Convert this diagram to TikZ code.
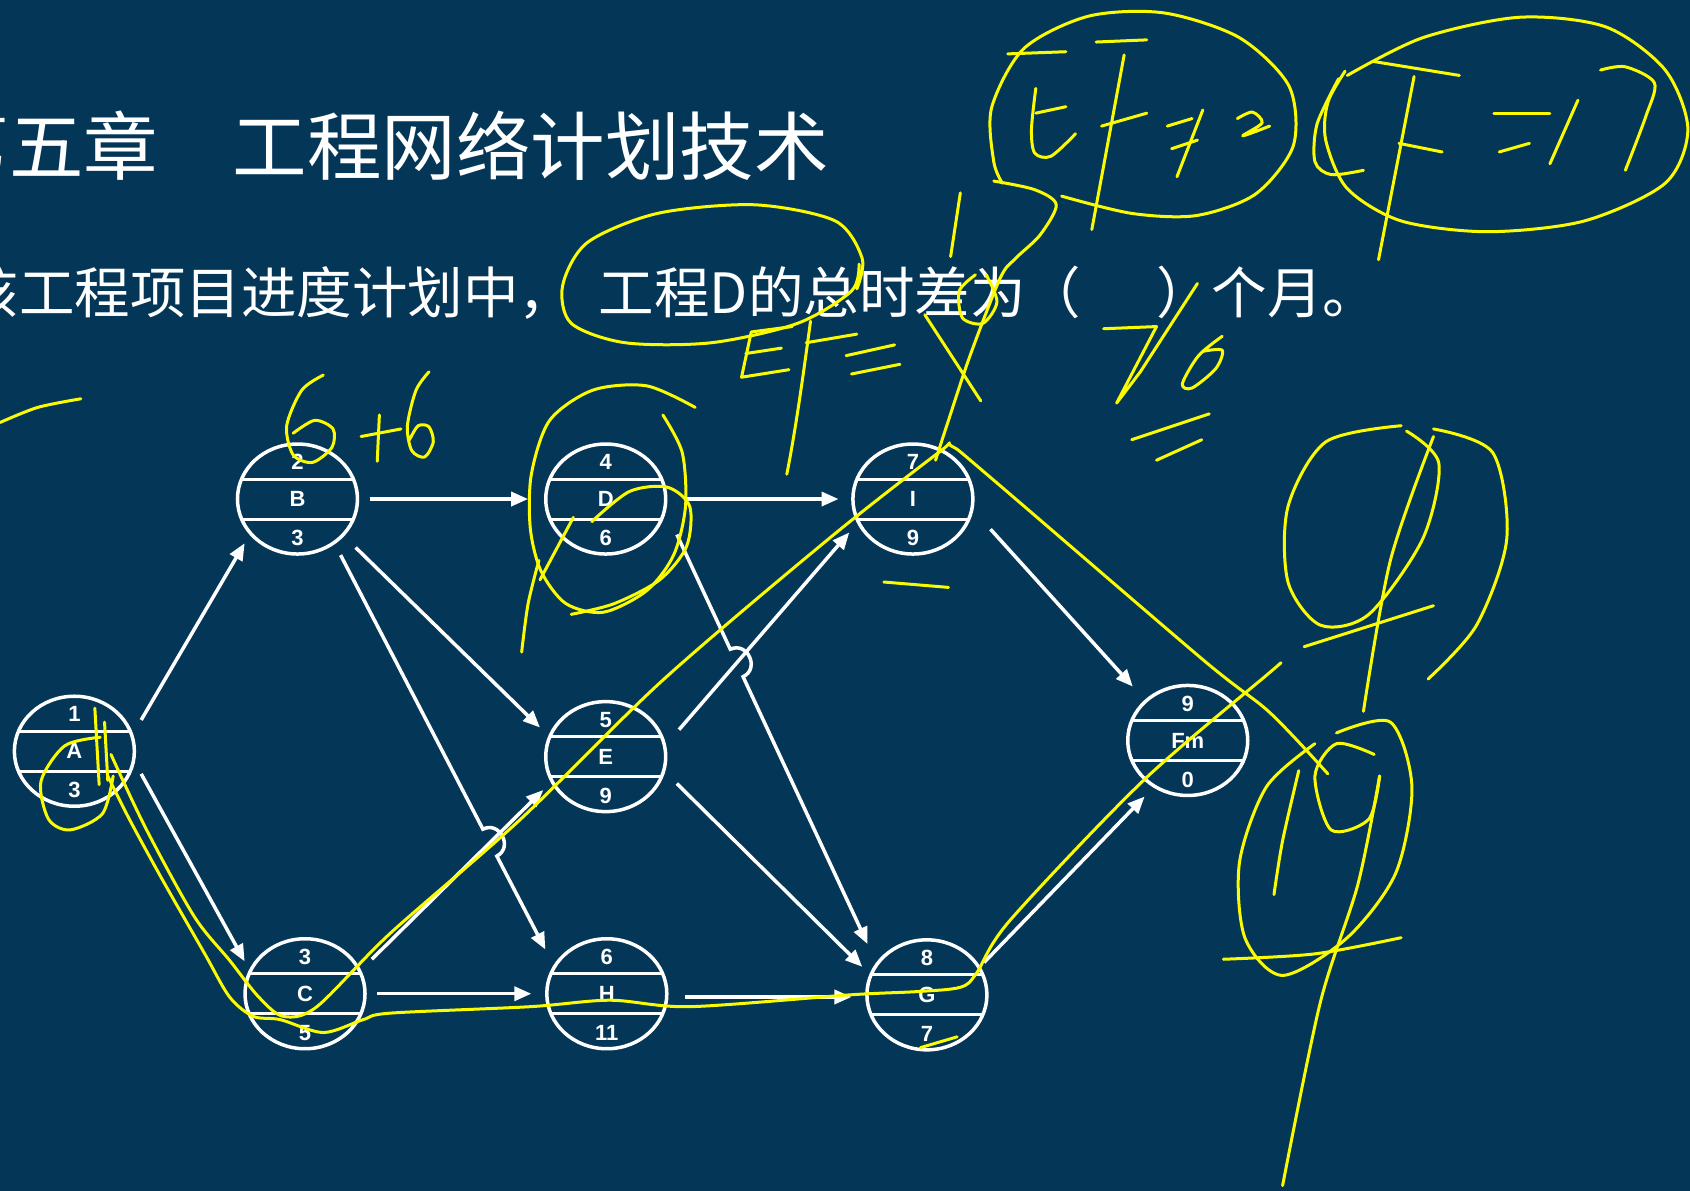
\documentclass[tikz,border=0pt]{standalone}
\usepackage{fontspec}
\setmainfont{Liberation Sans}
\newfontfamily\cjk{Noto Sans CJK SC}
\usetikzlibrary{arrows.meta,calc,shapes.geometric}
\definecolor{bg}{RGB}{4,54,88}
\definecolor{hl}{RGB}{250,250,0}
\newcommand\EvNode[6]{%
  \node[evt] (#1) at (#2,#3) {};
  \node[lab] (#1t) at ([yshift=37pt]#1.center) {#4};
  \node[lab] (#1m) at (#1.center) {#5};
  \node[lab] (#1b) at ([yshift=-39pt]#1.center) {#6};
}
\begin{document}
\begin{tikzpicture}[x=1.0778pt,y=-1.0778pt,
  evt/.style={ellipse, draw=white, line width=3.5pt, minimum width=120pt, minimum height=110pt, inner sep=0pt,
    path picture={\draw[white,line width=3pt]
      ([yshift=20pt]path picture bounding box.west) -- ([yshift=20pt]path picture bounding box.east)
      ([yshift=-20pt]path picture bounding box.west) -- ([yshift=-20pt]path picture bounding box.east);}},
  lab/.style={text=white, font=\bfseries\fontsize{22}{22}\selectfont, inner sep=0pt},
  arr/.style={white, line width=3.5pt, -{Triangle[length=17pt,width=14pt]}},
  ink/.style={hl, line width=3pt, line cap=round, line join=round},
  cjktext/.style={anchor=west, inner sep=0pt, text=white}
]
\fill[bg] (0,0) rectangle (1568,1105);
\useasboundingbox (0,0) rectangle (1568,1105);

% texts
\node[cjktext, font=\cjk\fontsize{74.5}{74.5}\selectfont] (title) at (-60.5,135.5) {第五章　工程网络计划技术};
\node[cjktext, font=\cjk\fontsize{55.5}{55.5}\selectfont] (q) at (-34,272) {该工程项目进度计划中，\hspace{0.45em}工程D的总时差为（\hspace{1.35em}）个月。};

% event nodes
\EvNode{A}{69}{697}{1}{A}{3}
\EvNode{B}{276}{463}{2}{B}{3}
\EvNode{D}{562}{463}{4}{D}{6}
\EvNode{I}{847}{463}{7}{I}{9}
\EvNode{E}{562}{702}{5}{E}{9}
\EvNode{Fm}{1102}{687}{9}{Fm}{0}
\EvNode{C}{283}{922}{3}{C}{5}
\EvNode{H}{563}{922}{6}{H}{11}
\EvNode{G}{860}{923}{8}{G}{7}

% arrows
\draw[arr] ([shift={(62,-29)}]A.center) -- ([shift={(-49,41)}]B.center);
\draw[arr] ([shift={(62,21)}]A.center) -- ([shift={(-56,-30)}]C.center);
\draw[arr] ([shift={(67,0)}]B.center) -- ([shift={(-72,0)}]D.center);
\draw[arr] ([shift={(54,45)}]B.center) -- ([shift={(-61,-27)}]E.center);
\coordinate (bh0) at ([shift={(40,52)}]B.center);
\coordinate (bh3) at ([shift={(-57,-41)}]H.center);
\draw[arr] (bh0) -- ($(bh0)!0.695!(bh3)$) to[bend left=90,looseness=1.6] ($(bh0)!0.763!(bh3)$) -- (bh3);
\draw[arr] ([shift={(62,-32)}]C.center) -- ([shift={(-58,31)}]E.center);
\draw[arr] ([shift={(67,0)}]C.center) -- ([shift={(-70,0)}]H.center);
\draw[arr] ([shift={(73,0)}]D.center) -- ([shift={(-69,0)}]I.center);
\coordinate (dg0) at ([shift={(66,33)}]D.center);
\coordinate (dg3) at ([shift={(-55,-47)}]G.center);
\draw[arr] (dg0) -- ($(dg0)!0.28!(dg3)$) to[bend left=90,looseness=1.6] ($(dg0)!0.347!(dg3)$) -- (dg3);
\draw[arr] ([shift={(68,-25)}]E.center) -- ([shift={(-59,31)}]I.center);
\draw[arr] ([shift={(66,25)}]E.center) -- ([shift={(-60,-26)}]G.center);
\draw[arr] ([shift={(73,3)}]H.center) -- ([shift={(-70,2)}]G.center);
\draw[arr] ([shift={(72,28)}]I.center) -- ([shift={(-51,-50)}]Fm.center);
\draw[arr] ([shift={(53,-30)}]G.center) -- ([shift={(-40,52)}]Fm.center);

% ---------- yellow handwriting ----------
\draw[ink] plot[smooth] coordinates {(0,392) (35,378) (75,370)};
% 6+6
\draw[ink] plot[smooth] coordinates {(300,348) (280,362) (266,395) (272,422) (290,429) (308,415) (309,398) (292,390) (272,402)};
\draw[ink] (335,405) -- (372,398);
\draw[ink] (352,385) -- (350,428);
\draw[ink] plot[smooth] coordinates {(398,345) (386,362) (378,395) (382,418) (394,424) (402,410) (398,396) (388,395) (380,408)};
% ellipse round the question words
\draw[ink] plot[smooth] coordinates {(795,268) (800,240) (775,205) (700,190) (610,198) (545,225) (522,265) (530,300) (580,318) (660,318) (740,300) (790,270) (797,245)};
% EF=9 under the question
\draw[ink] (735,303) -- (697,308) -- (688,350) -- (732,343);
\draw[ink] (692,328) -- (725,323);
\draw[ink] (752,298) .. controls (745,350) and (738,400) .. (730,440);
\draw[ink] (748,318) -- (795,310);
\draw[ink] (785,330) -- (830,320);
\draw[ink] (790,347) -- (835,338);
\draw[ink] (858,292) -- (910,372);
\draw[ink] plot[smooth] coordinates {(905,255) (890,270) (893,295) (912,300) (925,280) (915,255)};
% EF=12
\draw[ink] plot[smooth] coordinates {(985,182) (1050,198) (1110,200) (1165,180) (1200,135) (1196,80) (1150,35) (1080,12) (1010,15) (950,45) (920,100) (922,150) (930,170)};
\draw[ink] plot[smooth] coordinates {(922,168) (960,176) (980,190) (965,218) (942,240) (928,258) (900,330) (880,390) (868,427)};
\draw[ink] (891,179) -- (882,238);
\draw[ink] (935,50) -- (989,48);
\draw[ink] plot[smooth] coordinates {(961,82) (957,120) (960,142) (975,145) (998,124)};
\draw[ink] (961,105) -- (989,99);
\draw[ink] (1017,39) -- (1064,37);
\draw[ink] (1043,51) -- (1013,213);
\draw[ink] (1022,117) -- (1064,105);
\draw[ink] (1083,117) -- (1106,110);
\draw[ink] (1087,138) -- (1111,130);
\draw[ink] (1116,102) -- (1092,164);
\draw[ink] plot[smooth] coordinates {(1148,110) (1162,104) (1171,114) (1153,126) (1178,117)};
% LF=17
\draw[ink] plot[smooth] coordinates {(1250,70) (1320,35) (1410,16) (1490,25) (1545,65) (1566,120) (1545,170) (1470,205) (1380,215) (1300,205) (1250,175) (1230,130) (1232,95) (1248,66)};
\draw[ink] plot[smooth] coordinates {(1242,73) (1222,115) (1220,150) (1235,162) (1265,158)};
\draw[ink] (1274,57) -- (1354,70);
\draw[ink] (1312,71) -- (1279,241);
\draw[ink] (1298,133) -- (1338,141);
\draw[ink] (1386,105) -- (1438,105);
\draw[ink] (1391,141) -- (1419,133);
\draw[ink] (1464,93) -- (1438,152);
\draw[ink] plot[smooth] coordinates {(1485,65) (1508,62) (1535,77) (1527,108) (1508,158)};
% 26 =
\draw[ink] (1024,305) -- (1073,303) -- (1036,374) -- (1058,345) -- (1111,263);
\draw[ink] plot[smooth] coordinates {(1134,312) (1112,330) (1097,356) (1106,360) (1128,342) (1134,325) (1116,326)};
\draw[ink] (1050,408) -- (1122,384);
\draw[ink] (1073,427) -- (1115,408);
% around D
\draw[ink] plot[smooth] coordinates {(645,378) (600,358) (550,362) (510,390) (493,440) (492,490) (502,530) (525,560) (560,568) (600,548) (625,515) (636,470) (633,420) (615,385)};
\draw[ink] plot[smooth] coordinates {(500,520) (490,560) (484,605)};
\draw[ink] plot[smooth] coordinates {(549,484) (584,456) (619,452) (640,470) (637,507) (612,538) (570,560) (530,570)};
\draw[ink] (532,480) -- (501,538);
% marks under I and G
\draw[ink] (820,540) -- (880,545);
\draw[ink] (854,972) -- (888,962);
% at A
\draw[ink] (88,657) -- (92,728);
\draw[ink] (97,670) -- (100,724);
\draw[ink] plot[smooth] coordinates {(93,684) (60,692) (38,725) (45,760) (65,770) (95,755) (105,720)};
% critical paths
\draw[ink] plot[smooth] coordinates {(103,700) (135,768) (180,850) (213,891) (240,925) (263,943) (294,934) (362,866) (482,761) (615,631) (770,499) (872,419) (883,414) (919,443) (1116,612) (1178,661) (1232,718)};
\draw[ink] plot[smooth] coordinates {(100,720) (120,760) (150,815) (190,885) (213,925) (235,943) (260,946) (300,958) (337,946) (362,940) (492,934) (566,928) (640,934) (789,923) (851,920) (891,916) (906,903) (937,854) (1061,724) (1178,624) (1186,617)};
% right 9
\draw[ink] plot[smooth] coordinates {(1330,398) (1385,420) (1398,500) (1370,580) (1325,630)};
\draw[ink] plot[smooth] coordinates {(1300,395) (1230,410) (1195,470) (1195,540) (1225,580) (1270,570) (1320,500) (1335,430) (1305,400)};
\draw[ink] plot[smooth] coordinates {(1330,405) (1290,520) (1265,660)};
\draw[ink] (1210,600) -- (1330,562);
% 19
\draw[ink] plot[smooth] coordinates {(1205,715) (1190,780) (1182,830)};
\draw[ink] plot[smooth] coordinates {(1275,700) (1240,690) (1220,720) (1235,770) (1270,760) (1280,720)};
\draw[ink] plot[smooth] coordinates {(1240,680) (1290,670) (1310,730) (1295,810) (1250,870) (1190,905) (1155,870) (1150,800) (1175,730) (1220,690)};
\draw[ink] plot[smooth] coordinates {(1280,720) (1260,820) (1225,930) (1190,1100)};
\draw[ink] plot[smooth] coordinates {(1135,890) (1220,885) (1300,870)};
\end{tikzpicture}
\end{document}
